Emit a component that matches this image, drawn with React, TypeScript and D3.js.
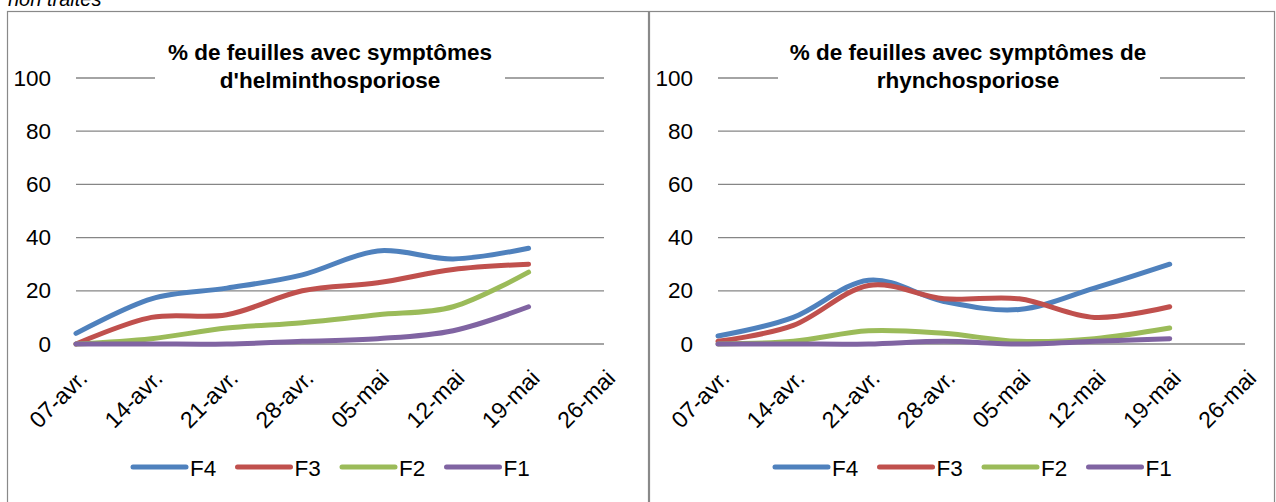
import * as d3 from 'd3';

const categories = ['07-avr.', '14-avr.', '21-avr.', '28-avr.', '05-mai', '12-mai', '19-mai', '26-mai'];
const yTicks = [0, 20, 40, 60, 80, 100];
const seriesNames = ['F4', 'F3', 'F2', 'F1'];
const seriesColors = ['#4F81BD', '#C0504D', '#9BBB59', '#8064A2'];

// helminthosporiose (left)
const helmF4 = [4, 17, 21, 26, 35, 32, 36];
const helmF3 = [0, 10, 11, 20, 23, 28, 30];
const helmF2 = [0, 2, 6, 8, 11, 14, 27];
const helmF1 = [0, 0, 0, 1, 2, 5, 14];

// rhynchosporiose (right)
const rhynF4 = [3, 10, 24, 16, 13, 21, 30];
const rhynF3 = [1, 7, 22, 17, 17, 10, 14];
const rhynF2 = [0, 1, 5, 4, 1, 2, 6];
const rhynF1 = [0, 0, 0, 1, 0, 1, 2];

const FONT = '"Liberation Sans", Arial, sans-serif';

interface PanelProps {
  boxX: number;
  boxW: number;
  plotX0: number;
  plotX1: number;
  titleLines: string[];
  titleCx: number;
  titleGap: [number, number];
  legendX: number;
  series: number[][];
}

function Panel({ boxX, boxW, plotX0, plotX1, titleLines, titleCx, titleGap, legendX, series }: PanelProps) {
  const x = d3.scalePoint<string>().domain(categories).range([plotX0, plotX1]).padding(0);
  const y = d3.scaleLinear().domain([0, 100]).range([344, 78]);
  const line = d3
    .line<number>()
    .x((_, i) => x(categories[i])!)
    .y((d) => y(d))
    .curve(d3.curveCardinal.tension(0));

  return (
    <g>
      <rect x={boxX + 0.5} y={11.5} width={boxW} height={520} fill="#fff" stroke="#898989" strokeWidth={1.2} />
      {yTicks.map((t) => (
        <g key={t}>
          <line x1={plotX0} x2={plotX1} y1={y(t)} y2={y(t)} stroke="#868686" strokeWidth={1.3} />
          <text x={plotX0 - 25} y={y(t)} textAnchor="end" dominantBaseline="central" fontSize={22.5} fontFamily={FONT} fill="#000">
            {t}
          </text>
        </g>
      ))}
      {categories.map((c) => (
        <text
          key={c}
          transform={`translate(${x(c)! + 7},374) rotate(-45)`}
          textAnchor="end"
          dominantBaseline="central"
          fontSize={23}
          fontFamily={FONT}
          fill="#000"
        >
          {c}
        </text>
      ))}
      {series.map((s, i) => (
        <path key={i} d={line(s)!} fill="none" stroke={seriesColors[i]} strokeWidth={5} strokeLinecap="round" strokeLinejoin="round" />
      ))}
      <rect x={titleGap[0]} y={40} width={titleGap[1] - titleGap[0]} height={55} fill="#fff" />
      {titleLines.map((l, i) => (
        <text key={i} x={titleCx} y={60 + i * 28} textAnchor="middle" fontSize={22.5} fontWeight="bold" fontFamily={FONT} fill="#000">
          {l}
        </text>
      ))}
      {seriesNames.map((n, i) => (
        <g key={n} transform={`translate(${legendX + i * 104.5},467)`}>
          <line x1={2} x2={55} y1={0} y2={0} stroke={seriesColors[i]} strokeWidth={5} strokeLinecap="round" />
          <text x={59} y={1} dominantBaseline="central" fontSize={22.5} fontFamily={FONT} fill="#000">
            {n}
          </text>
        </g>
      ))}
    </g>
  );
}

export default function App() {
  return (
    <svg width={1276} height={502} style={{ position: 'absolute', left: 0, top: 0, background: '#fff' }}>
      <text x={8} y={6} fontSize={20} fontStyle="italic" fontFamily={FONT} fill="#000">
        non traités
      </text>
      <Panel
        boxX={7}
        boxW={641}
        plotX0={76}
        plotX1={604}
        titleLines={['% de feuilles avec symptômes', "d'helminthosporiose"]}
        titleCx={330}
        titleGap={[155, 505]}
        legendX={131}
        series={[helmF4, helmF3, helmF2, helmF1]}
      />
      <Panel
        boxX={649}
        boxW={625}
        plotX0={718}
        plotX1={1245}
        titleLines={['% de feuilles avec symptômes de', 'rhynchosporiose']}
        titleCx={968}
        titleGap={[778, 1160]}
        legendX={773}
        series={[rhynF4, rhynF3, rhynF2, rhynF1]}
      />
    </svg>
  );
}
